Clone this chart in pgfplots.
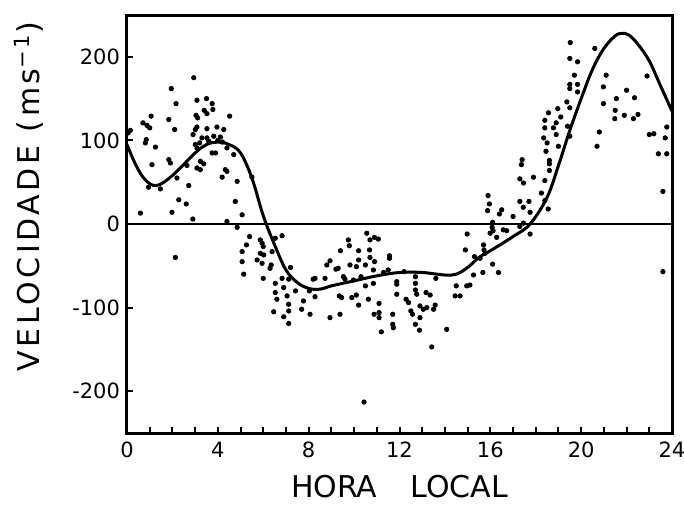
\documentclass[border=0pt]{standalone}
\usepackage{pgfplots}
\pgfplotsset{compat=1.18}
\usepackage{fontspec}
\setmainfont{DejaVu Sans}
\newfontfamily\lsfont[LetterSpace=12]{DejaVu Sans}
\begin{document}
\begin{tikzpicture}
\begin{axis}[
  scale only axis,
  width=272.5pt, height=209pt,
  xmin=0, xmax=24, ymin=-250, ymax=250,
  xtick={0,4,...,24}, minor x tick num=3,
  ytick={-200,-100,0,100,200},
  xtick pos=left, ytick pos=left,
  tick align=inside,
  major tick length=3pt, minor tick length=3pt,
  every tick/.style={line width=1pt, black},
  axis line style={line width=1.5pt},
  /pgf/number format/assume math mode=true,
  ticklabel style={font=\fontsize{10.5}{12}\selectfont},
  xticklabel style={yshift=-1pt},
  xlabel={HORA\hspace{1.1em}LOCAL},
  ylabel={\lsfont VELOCIDADE (ms\textsuperscript{−1})},
  xlabel style={at={(axis description cs:0.5,-0.128)}, anchor=center, font=\fontsize{15}{18}\selectfont},
  ylabel style={at={(axis description cs:-0.18,0.565)}, anchor=center, font=\fontsize{15}{18}\selectfont},
]
\addplot[line width=1pt, black] coordinates {(0,0) (24,0)};
\addplot[smooth, tension=0.6, line width=1.5pt, black] coordinates {
(0,95) (0.4,70) (0.8,53) (1.3,46) (2,58) (3,85) (3.5,95) (4,98) (4.5,95) (5,85)
(5.5,55) (6,10) (6.5,-25) (7,-55) (7.5,-70) (8,-77) (8.5,-78) (9,-74) (10,-68)
(11,-62) (12,-58) (13,-58) (14,-61) (14.5,-60) (15,-52) (15.5,-40) (16,-32)
(17,-15) (17.75,0) (18.5,32) (19,70) (19.5,112) (20,150) (20.5,185) (21,210)
(21.5,225) (21.8,228) (22.1,226) (22.5,215) (23,195) (23.5,165) (24,135)
};
\addplot[only marks, mark=*, mark size=1.1pt, black] table {
x y
2.94 175
1.95 162
2.16 144
3.08 148
3.5 150
3.75 144
3.78 137
3.4 136
3.52 132
3.04 130
3.11 127
4.52 129
1.06 129
1.84 125
0.7 121
0.88 118
1.0 115
2.1 113
3.08 116
3.01 113
3.52 114
3.96 116
4.26 113
2.91 107
3.3 103
3.52 103
3.82 105
4.11 104
0.85 101
0.81 97
1.25 92
3.01 95
3.08 91
3.75 85
3.9 85
4.4 91
4.7 83
1.84 77
1.91 73
1.1 71
2.64 70
3.23 75
3.38 72
3.08 67
3.23 65
4.33 65
4.4 63
4.19 56
4.85 51
5.5 56
2.2 55
0.95 44
1.47 42
2.72 46
2.28 29
2.61 24
4.77 27
0.59 13
1.98 14
5.07 11
2.9 6
4.4 3
0.05 109
0.15 112
3.2 97
3.6 99
4.0 100
4.2 98
2.13 -40
4.85 -4
5.4 -15
5.26 -25
5.07 -33
5.07 -45
5.14 -60
5.87 -19
5.95 -23
6.0 -27
5.87 -35
6.02 -37
5.73 -43
5.95 -47
6.39 -33
6.35 -49
6.3 -53
6.83 -14
6.53 -17
6.0 -65
6.53 -71
6.83 -65
7.12 -66
6.53 -82
6.9 -76
6.6 -90
7.05 -86
7.42 -80
7.12 -96
6.46 -105
7.12 -104
6.9 -111
7.12 -119
7.2 -52
7.77 -92
7.69 -102
8.06 -108
8.28 -87
8.03 -80
8.2 -66
8.28 -65
8.72 -65
8.8 -49
8.94 -44
9.2 -54
9.3 -53
9.4 -32
9.75 -19
9.79 -26
9.35 -86
9.45 -88
8.94 -112
9.38 -108
9.82 -49
10.1 -51
10.2 -32
10.2 -43
9.53 -63
9.97 -67
9.9 -88
10.1 -85
10.2 -97
10.56 -11
10.7 -19
10.9 -16
11.07 -18
10.68 -31
10.7 -40
10.9 -45
10.5 -49
10.85 -55
10.5 -74
10.85 -71
10.63 -90
11.1 -95
10.88 -108
11.1 -106
11.1 -112
11.2 -129
11.56 -41
11.56 -38
11.5 -55
11.7 -108
11.7 -120
11.73 -124
11.88 -69
11.88 -72
11.88 -84
12.29 -90
12.7 -63
12.7 -71
12.7 -79
12.76 -84
12.4 -94
12.5 -104
12.57 -108
12.9 -98
13.05 -102
13.2 -100
13.17 -82
13.35 -85
13.5 -102
13.57 -97
12.7 -120
12.88 -127
12.9 -112
13.42 -147
14.08 -126
13.6 -65
14.5 -74
14.67 -86
14.45 -86
14.96 -74
14.98 -12
14.9 -31
15.3 -39
15.55 -41
15.7 -25
15.77 -35
15.26 -61
15.67 -58
10.44 -213
9.6 -66
10.3 -63
11.3 -58
12.2 -57
19.52 217
20.6 210
19.5 198
19.84 194
19.7 178
19.5 167
19.5 162
19.84 167
19.84 158
19.37 146
19.5 139
18.97 138
18.56 133
19.1 128
18.9 121
18.78 115
18.4 124
18.4 115
19.4 117
19.5 105
18.35 103
18.5 97
18.45 87
18.9 107
19.0 93
18.6 76
18.6 72
17.4 77
17.37 71
18.6 64
17.9 56
18.4 52
17.3 54
17.46 49
18.25 37
18.4 28
18.55 18
15.9 34
15.96 24
15.88 16
16.5 17
16.4 12
17.3 27
17.45 20
17.7 27
17.0 9
17.75 14
21.1 178
20.98 164
22.0 160
21.55 150
22.35 151
20.98 144
21.5 136
21.48 126
21.9 130
22.3 126
22.5 131
20.8 110
20.7 93
23.0 107
23.2 108
23.77 116
23.7 103
23.4 84
23.77 84
22.9 177
23.6 39
16.1 2
16.08 -4
16.12 -8
16.57 -7
16.72 -8
15.99 -11
16.28 -16
16.1 -48
16.36 -58
15.1 -73
23.6 -57
17.46 1
17.3 -3
17.75 -12
15.72 -31
};
\end{axis}
\pgfresetboundingbox
\path ([shift={(-63.5pt,-35.5pt)}]current axis.south west) rectangle ([shift={(6pt,7.5pt)}]current axis.north east);
\end{tikzpicture}
\end{document}
